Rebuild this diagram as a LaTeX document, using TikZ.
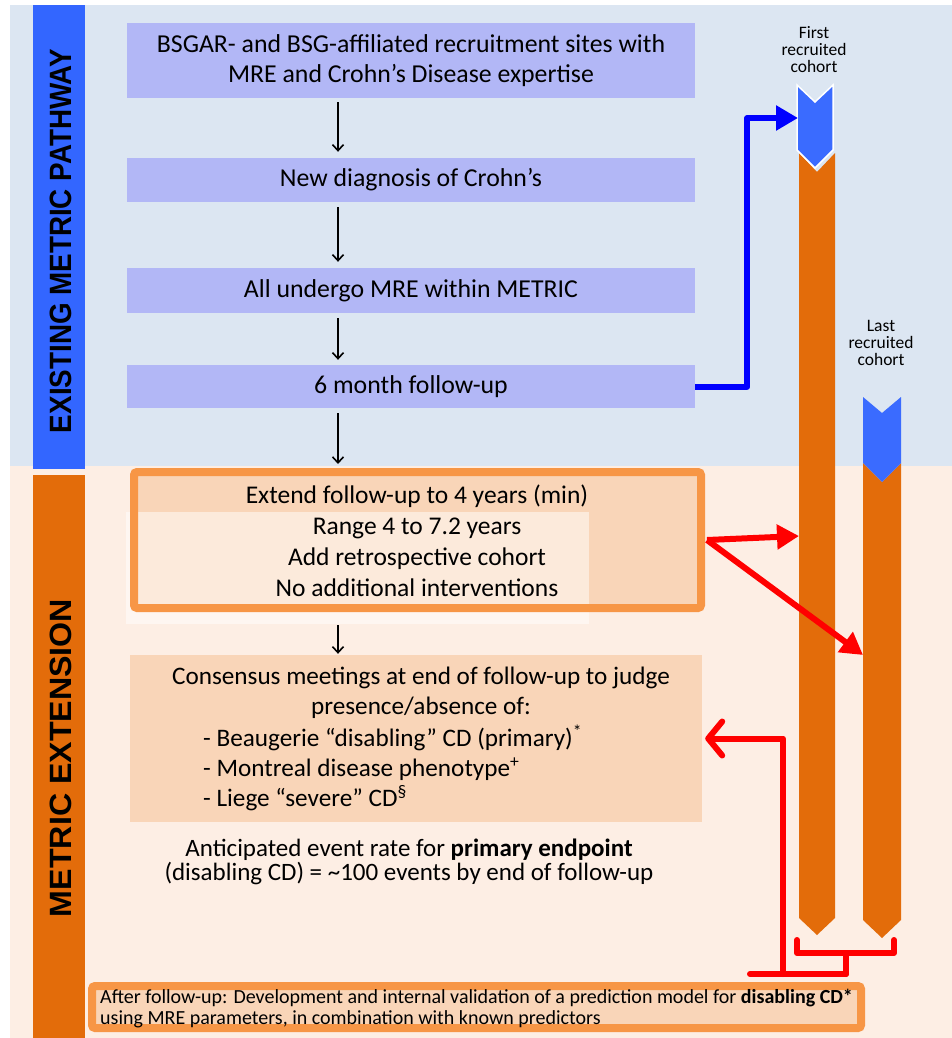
\documentclass[tikz,border=0pt]{standalone}
\usepackage{fontspec}
\setmainfont{Carlito}
\newfontfamily\barfont{Liberation Sans}
\usetikzlibrary{arrows.meta}
\definecolor{bandblue}{HTML}{DCE6F2}
\definecolor{bandpeach}{HTML}{FDEEE4}
\definecolor{lav}{HTML}{B2B7F6}
\definecolor{barblue}{HTML}{3366FF}
\definecolor{chevblue}{HTML}{3A6BFF}
\definecolor{orng}{HTML}{E36C0A}
\definecolor{oborder}{HTML}{F79646}
\definecolor{peachbox}{HTML}{F9D5B8}
\definecolor{redline}{HTML}{FF0000}
\definecolor{blueline}{HTML}{0000FF}
\begin{document}
\begin{tikzpicture}[x=1pt,y=-1pt,
  lavbox/.style={fill=lav, minimum width=568pt, inner sep=0pt, align=center, font=\fontsize{25.8}{30}\selectfont},
  flow/.style={-{Straight Barb[length=6pt,width=11pt]}, line width=1.6pt, black},
  thickred/.style={redline, line width=6pt, line cap=round, line join=round},
  redarrow/.style={thickred, line cap=butt, -{Triangle[length=22pt,width=24pt]}},
  bluearrow/.style={blueline, line width=6pt, line join=round, -{Triangle[length=22pt,width=24pt]}},
  cohortlabel/.style={align=center, font=\fontsize{17.5}{17}\selectfont, inner sep=0pt},
  bodytext/.style={align=center, font=\fontsize{25.5}{31}\selectfont, inner sep=0pt},
  framebox/.style={draw=oborder, line width=8pt, rounded corners=3pt, inner sep=0pt}
]
\useasboundingbox (0,0) rectangle (952,1038);
% bands
\fill[bandblue] (10,5) rectangle (952,466);
\fill[bandpeach] (10,466) rectangle (952,1038);
% side bars
\fill[barblue] (33,5) rectangle (85,469);
\node[rotate=90, inner sep=0pt] (lab1) at (60.5,241) {\resizebox{384pt}{21.5pt}{\barfont\bfseries EXISTING METRIC PATHWAY}};
\fill[orng] (33,475) rectangle (85,1038);
\node[rotate=90, inner sep=0pt] (lab2) at (60.5,758) {\resizebox{318pt}{21.5pt}{\barfont\bfseries METRIC EXTENSION}};

% lavender boxes
\node[lavbox, minimum height=75pt] (b1) at (411,60.5) {BSGAR- and BSG-affiliated recruitment sites with\\MRE and Crohn’s Disease expertise};
\node[lavbox, minimum height=44pt] (b2) at (411,180) {New diagnosis of Crohn’s};
\node[lavbox, minimum height=45pt] (b3) at (411,290.5) {All undergo MRE within METRIC};
\node[lavbox, minimum height=43pt] (b4) at (411,386.5) {6 month follow-up};

% extension box
\fill[peachbox] (134,472) rectangle (701,608);
\fill[white, opacity=0.5] (126,512) rectangle (589,624);
\node[framebox, minimum width=567pt, minimum height=136pt] (ext) at (417.5,540) {};
\node[bodytext] (extt) at (417,541) {Extend follow-up to 4 years (min)\\Range 4 to 7.2 years\\Add retrospective cohort\\No additional interventions};

% consensus box
\node[fill=peachbox, minimum width=572pt, minimum height=167pt, inner sep=0pt] (cons) at (416,738.5) {};
\node[bodytext, font=\fontsize{25.2}{30}\selectfont] (cons1) at (421,693) {Consensus meetings at end of follow-up to judge\\presence/absence of:};
\node[bodytext, font=\fontsize{25.2}{30}\selectfont, align=left, anchor=west] (cons2) at (203,768) {- Beaugerie “disabling” CD (primary)\textsuperscript{*}\\- Montreal disease phenotype\textsuperscript{+}\\- Liege “severe” CD\textsuperscript{§}};

% anticipated
\node[align=center, inner sep=0pt, font=\fontsize{25}{21.5}\selectfont] (antic) at (409,862) {Anticipated event rate for \textbf{primary endpoint}\\(disabling CD) = \textasciitilde100 events by end of follow-up};

% final box
\node[framebox, fill=peachbox, minimum width=769pt, minimum height=42pt] (final) at (476.5,1007) {};
\node[anchor=west, align=left, inner sep=0pt, font=\fontsize{20}{21}\selectfont] (finalt) at (100,1009) {After follow-up: Development and internal validation of a prediction model for \textbf{disabling CD*}\\using MRE parameters, in combination with known predictors};

% flow arrows
\draw[flow] ([xshift=-73pt,yshift=-4pt]b1.south) -- ([xshift=-73pt,yshift=6pt]b2.north);
\draw[flow] ([xshift=-73pt,yshift=-5pt]b2.south) -- ([xshift=-73pt,yshift=6pt]b3.north);
\draw[flow] ([xshift=-73pt,yshift=-5pt]b3.south) -- ([xshift=-73pt,yshift=5pt]b4.north);
\draw[flow] ([xshift=-73pt,yshift=-5pt]b4.south) -- ([xshift=-79.5pt,yshift=4pt]ext.north);
\draw[flow] ([xshift=-79.5pt,yshift=-13pt]ext.south) -- ([xshift=-78pt,yshift=1pt]cons.north);

% cohort labels
\node[cohortlabel] (first) at (814,50) {First\\recruited\\cohort};
\node[cohortlabel] (last) at (881,343) {Last\\recruited\\cohort};

% columns
\fill[orng] (799,153) -- (817,172) -- (835,153) -- (835,918) -- (817,935) -- (799,918) -- cycle;
\fill[chevblue, draw=white, line width=1.5pt] (797,85) -- (815,102) -- (833,85) -- (833,150) -- (815,168) -- (797,150) -- cycle;
\fill[orng] (863,463) -- (882,482) -- (901,463) -- (901,920) -- (882,938) -- (863,920) -- cycle;
\fill[chevblue] (863,397) -- (882,413) -- (901,397) -- (901,463) -- (882,482) -- (863,463) -- cycle;
\coordinate (c1in) at (798,118);
\coordinate (c1mid) at (799,536);
\coordinate (c2mid) at (863,655);
\coordinate (c1end) at (797,940);
\coordinate (c2end) at (894,940);
\coordinate (tjoin) at (846,974);

% blue arrow
\draw[bluearrow] (b4.east) -- ++(52,0) |- (c1in);

% red arrows
\draw[redarrow] ([xshift=2pt]ext.east) -- (c1mid);
\draw[redarrow] ([xshift=2pt]ext.east) -- (c2mid);

% bracket and return
\draw[thickred] (c1end) -- (797,953) -- (894,953) -- (c2end);
\draw[thickred] (846,953) -- (tjoin);
\draw[thickred] (tjoin) -- (750,974);
\draw[thickred, -{Straight Barb[length=14pt,width=34pt,round]}] (783,974) |- ([xshift=3pt]cons.east);
\end{tikzpicture}
\end{document}
